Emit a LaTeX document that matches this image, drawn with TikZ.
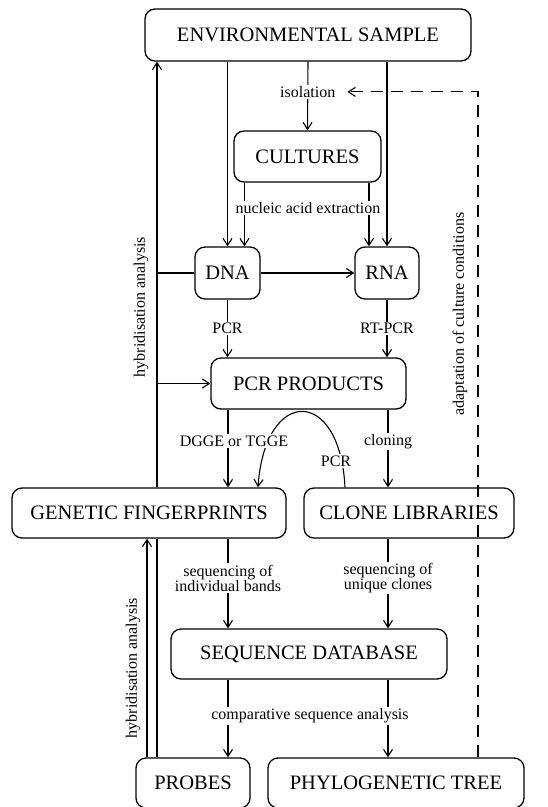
\documentclass[tikz,border=0pt]{standalone}
\usepackage{fontspec}
\setmainfont{Liberation Serif}
\usetikzlibrary{arrows.meta}

\begin{document}
\begin{tikzpicture}[x=1pt,y=-1pt,>={Straight Barb[length=7pt,width=9pt]},line width=1.1pt,
  box/.style={draw,rounded corners=10pt,line width=1.3pt,fill=white,inner sep=0pt,font=\fontsize{20.5}{24}\selectfont},
  lbl/.style={fill=white,inner sep=1.5pt,font=\fontsize{16}{18}\selectfont,align=center}]
  \useasboundingbox (0,0) rectangle (547,807);

  \node[box,minimum width=326pt,minimum height=52pt] (env) at (308,35) {ENVIRONMENTAL SAMPLE};
  \node[box,minimum width=147pt,minimum height=51pt] (cult) at (307.5,156.5) {CULTURES};
  \node[box,minimum width=65pt,minimum height=52pt] (dna) at (227.5,273) {DNA};
  \node[box,minimum width=64pt,minimum height=52pt] (rna) at (387,273) {RNA};
  \node[box,minimum width=195pt,minimum height=51pt] (pcrp) at (308.5,383.5) {PCR PRODUCTS};
  \node[box,minimum width=274pt,minimum height=50pt] (gf) at (149,513) {GENETIC FINGERPRINTS};
  \node[box,minimum width=210pt,minimum height=50pt] (cl) at (409,513) {CLONE LIBRARIES};
  \node[box,minimum width=276pt,minimum height=50pt] (sd) at (309,654) {SEQUENCE DATABASE};
  \node[box,minimum width=114pt,minimum height=50pt] (probes) at (193,783) {PROBES};
  \node[box,minimum width=256pt,minimum height=50pt] (pt) at (396,783) {PHYLOGENETIC TREE};

  \coordinate (lcol) at (228,0);
  \coordinate (rcol) at (388,0);
  \coordinate (hyb) at (157,0);
  \coordinate (hyb2) at (147,0);
  \coordinate (adapt) at (478,0);

  \draw[->] (env.south -| dna.north) -- (dna.north);
  \draw[->] (env.south -| rna.north) -- (rna.north);
  \draw[->] (env.south) -- node[lbl,pos=0.44] (iso) {isolation} (cult.north);
  \draw[->] ([xshift=17pt]dna.north |- cult.south) -- ([xshift=17pt]dna.north);
  \draw[->] ([xshift=-18pt]rna.north |- cult.south) -- ([xshift=-18pt]rna.north);
  \node[lbl] (nae) at (308,208) {nucleic acid extraction};
  \draw[->] (dna.east) -- (rna.west);

  \draw[->] (dna.south) -- node[lbl] {PCR} (dna.south |- pcrp.north);
  \draw[->] (rna.south) -- node[lbl] {RT-PCR} (rna.south |- pcrp.north);

  \draw[->] (pcrp.south -| lcol) -- (gf.north -| lcol);
  \draw[->] (pcrp.south -| rcol) -- node[lbl,pos=0.41] {cloning} (cl.north -| rcol);
  \draw[->] ([xshift=-64pt]cl.north) .. controls +(-5,-101) and +(7,-101) .. ([xshift=109pt]gf.north);
  \node[lbl] (dgge) at (234,441) {DGGE or TGGE};
  \node[lbl] (pcr2) at (336,461) {PCR};

  \draw[->] (gf.south -| lcol) -- node[lbl,pos=0.44] {sequencing of\\[-3pt]individual bands} (sd.north -| lcol);
  \draw[->] (cl.south -| rcol) -- node[lbl,pos=0.44] {sequencing of\\[-3pt]unique clones} (sd.north -| rcol);
  \draw[->] (sd.south -| lcol) -- (probes.north -| lcol);
  \draw[->] (sd.south -| rcol) -- (pt.north -| rcol);
  \node[lbl] (csa) at (310,716) {comparative sequence analysis};

  \draw (probes.north -| hyb) -- (gf.south -| hyb);
  \draw[->] (gf.north -| hyb) -- (env.south -| hyb);
  \draw (hyb |- dna.west) -- (dna.west);
  \draw[->] (hyb |- pcrp.west) -- (pcrp.west);
  \draw[->] (probes.north -| hyb2) -- (gf.south -| hyb2);
  \node[lbl,rotate=90] (hyblbl) at (141,307) {hybridisation analysis};
  \node[lbl,rotate=90] (hyblbl2) at (133,668) {hybridisation analysis};

  \draw[->,dash pattern=on 12pt off 8pt] (pt.north -| adapt) -- (adapt |- iso.east) -- ([xshift=10pt]iso.east);
  \node[lbl,rotate=90] (adlbl) at (460,314) {adaptation of culture conditions};
\end{tikzpicture}
\end{document}
